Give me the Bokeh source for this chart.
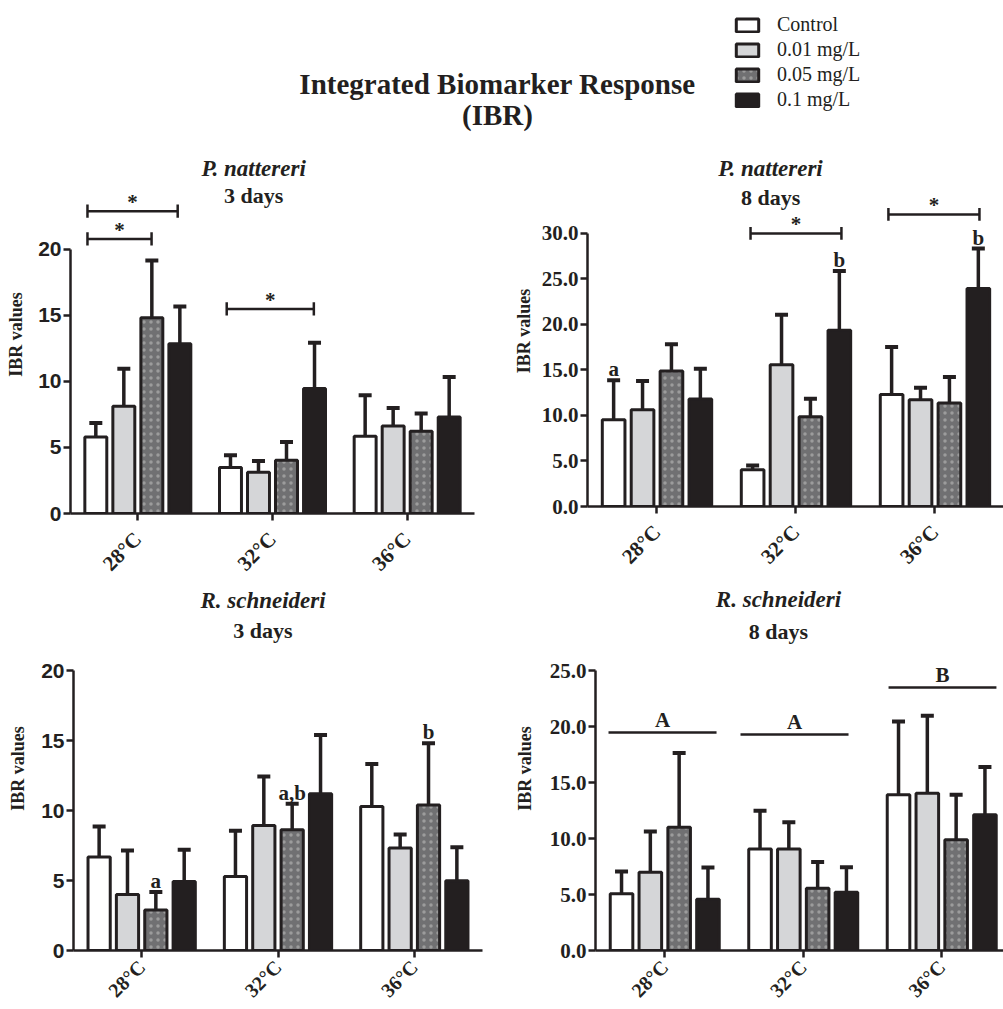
from math import pi
from bokeh.plotting import figure
from bokeh.layouts import column, row
from bokeh.models import (Range1d, FixedTicker, PrintfTickFormatter, Whisker, TeeHead,
                          ColumnDataSource, Legend, LegendItem)
from bokeh.core.properties import value
from bokeh.embed import file_html
from bokeh.resources import INLINE

# ---------------- data ----------------
temps = ["28°C", "32°C", "36°C"]
series = ["Control", "0.01 mg/L", "0.05 mg/L", "0.1 mg/L"]

# P. nattereri, 3 days (rows = series, cols = temperatures)
pn3_mean = [[5.80, 3.48, 5.85], [8.12, 3.13, 6.63], [14.83, 4.04, 6.23], [12.86, 9.46, 7.31]]
pn3_err = [[1.06, 0.93, 3.10], [2.85, 0.85, 1.37], [4.34, 1.38, 1.34], [2.83, 3.48, 3.03]]
# P. nattereri, 8 days
pn8_mean = [[9.53, 4.03, 12.32], [10.63, 15.58, 11.73], [14.89, 9.86, 11.37], [11.81, 19.36, 23.95]]
pn8_err = [[4.33, 0.48, 5.21], [3.16, 5.50, 1.32], [2.93, 1.98, 2.86], [3.33, 6.53, 4.40]]
# R. schneideri, 3 days
rs3_mean = [[6.67, 5.29, 10.29], [4.00, 8.93, 7.33], [2.90, 8.62, 10.40], [4.93, 11.19, 4.98]]
rs3_err = [[2.19, 3.26, 3.04], [3.14, 3.50, 0.96], [1.27, 1.86, 4.41], [2.26, 4.21, 2.40]]
# R. schneideri, 8 days
rs8_mean = [[5.07, 9.06, 13.92], [7.00, 9.06, 14.06], [11.02, 5.57, 9.89], [4.59, 5.21, 12.13]]
rs8_err = [[1.99, 3.43, 6.55], [3.64, 2.41, 6.92], [6.62, 2.33, 4.03], [2.83, 2.24, 4.26]]

# significance brackets (x from, x to, y) in axis units
pn3_br_x0 = [0.626, 0.626, 1.660]
pn3_br_x1 = [1.296, 1.102, 2.307]
pn3_br_y = [22.9, 20.8, 15.5]
pn8_br_x0 = [1.673, 2.665]
pn8_br_x1 = [2.327, 3.320]
pn8_br_y = [30.0, 32.1]
# letters above error bars: (series index, temp index, label)
pn8_letters = [(0, 0, "a"), (3, 1, "b"), (3, 2, "b")]
rs3_letters = [(2, 0, "a"), (2, 1, "a,b"), (2, 2, "b")]
# group lines in R. schneideri 8 days
rs8_ln_x0 = [0.594, 1.547, 2.616]
rs8_ln_x1 = [1.374, 2.327, 3.395]
rs8_ln_y = [19.48, 19.30, 23.50]
rs8_ln_lab = ["A", "A", "B"]

INK = "#231f20"
SERIF = "Liberation Serif"
SANS = "Liberation Sans"
offsets = [-0.312, -0.104, 0.104, 0.312]
BAR_W = 0.163
styles = [
    dict(fill_color="white"),
    dict(fill_color="#d5d6d8"),
    dict(fill_color="#707072", hatch_pattern="dot", hatch_color="#9c9c9c",
         hatch_scale=7, hatch_weight=0.6),
    dict(fill_color=INK),
]


def panel(t1, t2, tx, ty1, ty2, means, errs, xend, yend, ymax, ytick_font, ytick_fmt,
          fw, fh, bl, br, bt, bb, lab_standoff, xlab_size, xlab_standoff):
    p = figure(frame_width=fw, frame_height=fh, x_range=Range1d(0.5, xend),
               y_range=Range1d(0, yend), output_backend="svg", toolbar_location=None,
               min_border_left=bl, min_border_right=br, min_border_top=bt,
               min_border_bottom=bb)
    p.outline_line_color = None
    p.xgrid.visible = False
    p.ygrid.visible = False
    xs_all, lo_all, up_all = [], [], []
    for j in range(4):
        xs = [i + 1 + offsets[j] for i in range(3)]
        p.vbar(x=xs, top=means[j], width=BAR_W, line_color=INK, line_width=3, **styles[j])
        xs_all += xs
        lo_all += means[j]
        up_all += [m + e for m, e in zip(means[j], errs[j])]
    src = ColumnDataSource(dict(x=xs_all, lower=lo_all, upper=up_all))
    p.add_layout(Whisker(source=src, base="x", lower="lower", upper="upper",
                         line_width=3.5, line_color=INK, lower_head=None,
                         upper_head=TeeHead(size=13, line_width=4, line_color=INK)))
    # titles
    p.text(x=[tx], y=[ty1], text=[t1], text_font=value(SERIF), text_font_style="bold italic",
           text_font_size="23px", text_align="center", text_baseline="middle", text_color=INK)
    p.text(x=[tx], y=[ty2], text=[t2], text_font=value(SERIF), text_font_style="bold",
           text_font_size="22px", text_align="center", text_baseline="middle", text_color=INK)
    # axes
    for ax in (p.xaxis[0], p.yaxis[0]):
        ax.axis_line_width = 2.5
        ax.axis_line_color = INK
        ax.major_tick_line_width = 2.5
        ax.major_tick_line_color = INK
        ax.major_tick_out = 7
        ax.major_tick_in = 0
        ax.minor_tick_line_color = None
        ax.major_label_text_color = INK
        ax.major_label_text_font_style = "bold"
    xa = p.xaxis[0]
    xa.ticker = FixedTicker(ticks=[1, 2, 3])
    xa.major_label_overrides = {1: temps[0], 2: temps[1], 3: temps[2]}
    xa.major_label_orientation = pi / 4
    xa.major_label_text_font = SERIF
    xa.major_label_text_font_size = xlab_size
    xa.major_label_standoff = xlab_standoff
    ya = p.yaxis[0]
    ya.bounds = (0, ymax)
    ya.ticker = FixedTicker(ticks=list(range(0, ymax + 1, 5)))
    ya.formatter = PrintfTickFormatter(format=ytick_fmt)
    ya.major_label_text_font = ytick_font
    ya.major_label_text_font_size = "21px"
    ya.major_label_standoff = 2
    ya.axis_label = "IBR values"
    ya.axis_label_text_font = SERIF
    ya.axis_label_text_font_style = "bold"
    ya.axis_label_text_font_size = "18px"
    ya.axis_label_text_color = INK
    ya.axis_label_standoff = lab_standoff
    return p


def brackets(p, x0, x1, y, d):
    p.segment(x0=x0, y0=y, x1=x1, y1=y, line_color=INK, line_width=2.5)
    p.segment(x0=x0, y0=[v - d for v in y], x1=x0, y1=[v + d for v in y], line_color=INK, line_width=2.5)
    p.segment(x0=x1, y0=[v - d for v in y], x1=x1, y1=[v + d for v in y], line_color=INK, line_width=2.5)
    p.text(x=[(a + b) / 2 for a, b in zip(x0, x1)], y=y, text=["*"] * len(y),
           text_font=value(SERIF), text_font_style="bold", text_font_size="21px",
           text_align="center", text_baseline="middle", y_offset=-9, text_color=INK)


def letters(p, means, errs, specs):
    xs = [s[1] + 1 + offsets[s[0]] for s in specs]
    ys = [means[s[0]][s[1]] + errs[s[0]][s[1]] for s in specs]
    p.text(x=xs, y=ys, text=[s[2] for s in specs], text_font=value(SERIF),
           text_font_style="bold", text_font_size="21px", text_align="center",
           text_baseline="middle", y_offset=-11, text_color=INK)


p1 = panel("P. nattereri", "3 days", 1.86, 26.14, 24.09, pn3_mean, pn3_err, 3.5, 27.12, 20,
           SANS, "%d", 404, 358, 70, 26, 5, 71, 9, "21px", 15)
brackets(p1, pn3_br_x0, pn3_br_x1, pn3_br_y, 0.5)

p2 = panel("P. nattereri", "8 days", 1.817, 37.14, 34.0, pn8_mean, pn8_err, 3.493, 38.57, 30,
           SERIF, "%.1f", 416, 351, 87, 0, 5, 78, 5, "21px", 15)
brackets(p2, pn8_br_x0, pn8_br_x1, pn8_br_y, 0.7)
letters(p2, pn8_mean, pn8_err, pn8_letters)

p3 = panel("R. schneideri", "3 days", 1.89, 25.0, 22.86, rs3_mean, rs3_err, 3.5, 26.0, 20,
           SANS, "%d", 409, 364, 73, 18, 0, 60, 10, "20px", 6)
letters(p3, rs3_mean, rs3_err, rs3_letters)

p4 = panel("R. schneideri", "8 days", 1.821, 31.37, 28.5, rs8_mean, rs8_err, 3.446, 32.53, 25,
           SERIF, "%.1f", 408, 364, 95, 0, 0, 60, 12, "20px", 6)
p4.segment(x0=rs8_ln_x0, y0=rs8_ln_y, x1=rs8_ln_x1, y1=rs8_ln_y, line_color=INK, line_width=2.5)
p4.text(x=[(a + b) / 2 for a, b in zip(rs8_ln_x0, rs8_ln_x1)], y=rs8_ln_y, text=rs8_ln_lab,
        text_font=value(SERIF), text_font_style="bold", text_font_size="21px",
        text_align="center", text_baseline="middle", y_offset=-13, text_color=INK)

# ---------------- header: title + legend ----------------
p0 = figure(width=1003, height=150, x_range=Range1d(0, 1003), y_range=Range1d(0, 150),
            x_axis_type=None, y_axis_type=None, output_backend="svg", toolbar_location=None,
            min_border=0)
p0.outline_line_color = None
p0.xgrid.visible = False
p0.ygrid.visible = False
p0.text(x=[497, 497], y=[67, 36], text=["Integrated Biomarker Response", "(IBR)"],
        text_font=value(SERIF), text_font_style="bold", text_font_size="29px",
        text_align="center", text_baseline="middle", text_color=INK)
items = []
nan = float("nan")
for name, st in zip(series, styles):
    # legend proxies: no drawable data, only their style is used by the legend
    r = p0.vbar(x=[nan], top=[nan], width=1, line_color=INK, line_width=3, **st)
    items.append(LegendItem(label=name, renderers=[r]))
leg = Legend(items=items, location=(733, 39), border_line_color=None,
             background_fill_alpha=0, padding=0, margin=0, spacing=2,
             glyph_width=28, glyph_height=16, label_standoff=16, label_height=20,
             label_text_font=SERIF, label_text_font_size="20px", label_text_color=INK)
p0.add_layout(leg)

layout = column(p0, row(p1, p2), row(p3, p4))
open("out.html", "w").write(file_html(layout, INLINE))
